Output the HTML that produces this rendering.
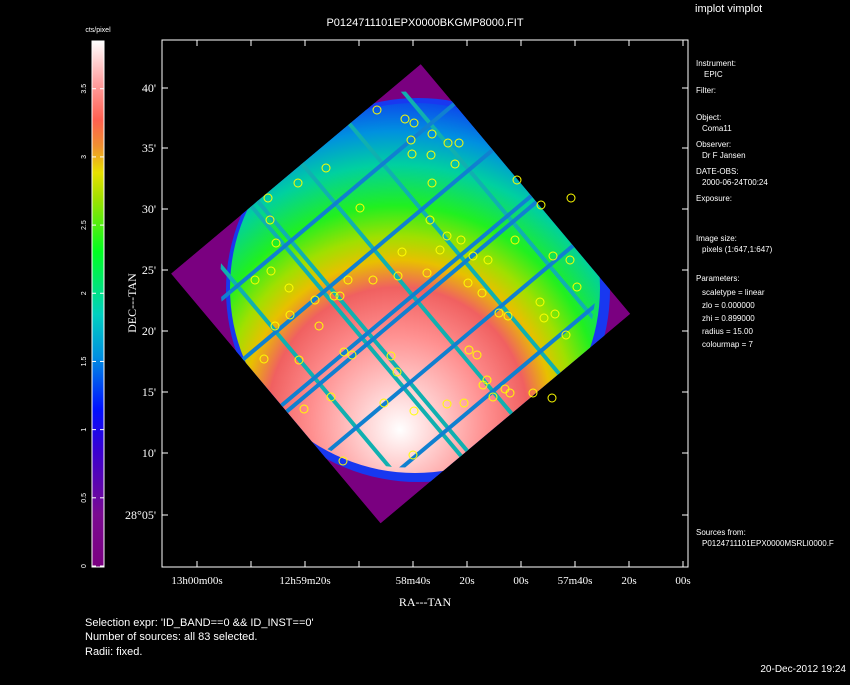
<!DOCTYPE html>
<html><head><meta charset="utf-8">
<style>
body{margin:0;background:#000;width:850px;height:680px;overflow:hidden;font-family:"Liberation Sans",sans-serif;}
svg text{fill:#fff;font-family:"Liberation Sans",sans-serif;}
</style></head>
<body>
<svg id="chart" width="850" height="680" viewBox="0 0 850 680" xmlns="http://www.w3.org/2000/svg">
<defs>
<linearGradient id="cbar" x1="0" y1="1" x2="0" y2="0">
<stop offset="0" stop-color="#7a0080"/><stop offset="0.1" stop-color="#7a0a90"/>
<stop offset="0.22" stop-color="#3a00d0"/><stop offset="0.3" stop-color="#0010ff"/>
<stop offset="0.4" stop-color="#0090e0"/><stop offset="0.48" stop-color="#00d0c0"/>
<stop offset="0.6" stop-color="#00ff20"/><stop offset="0.7" stop-color="#a0e000"/>
<stop offset="0.75" stop-color="#e8e000"/><stop offset="0.8" stop-color="#f09030"/>
<stop offset="0.85" stop-color="#ff6050"/><stop offset="0.92" stop-color="#ffa0a0"/>
<stop offset="1" stop-color="#ffffff"/>
</linearGradient>
<radialGradient id="img" gradientUnits="userSpaceOnUse" cx="395" cy="400" r="310" fx="400" fy="430">
<stop offset="0" stop-color="#ffffff"/><stop offset="0.12" stop-color="#ffd0d0"/>
<stop offset="0.28" stop-color="#ff9090"/><stop offset="0.42" stop-color="#f06060"/>
<stop offset="0.5" stop-color="#e8c000"/><stop offset="0.57" stop-color="#a0e000"/>
<stop offset="0.66" stop-color="#20f020"/><stop offset="0.78" stop-color="#00d0a0"/>
<stop offset="0.88" stop-color="#0090e0"/><stop offset="1" stop-color="#1030f0"/>
</radialGradient>
<clipPath id="sq"><rect x="237" y="131" width="326" height="326" transform="rotate(-40 400 293)"/></clipPath>
<clipPath id="disk"><circle cx="415" cy="288" r="188"/></clipPath>
</defs>

<text x="425" y="26" font-size="11" text-anchor="middle">P0124711101EPX0000BKGMP8000.FIT</text>
<text x="695" y="12" font-size="11">implot vimplot</text>

<text x="98" y="32" font-size="7" text-anchor="middle">cts/pixel</text>
<rect x="92" y="41" width="12" height="526" fill="url(#cbar)" stroke="#fff" stroke-width="1"/>
<g id="cbticks"></g>

<rect x="162" y="40" width="526" height="527" fill="none" stroke="#fff" stroke-width="1"/>

<g clip-path="url(#sq)">
<rect x="237" y="131" width="326" height="326" fill="#7a0080" transform="rotate(-40 400 293)"/>
<circle cx="418" cy="290" r="192" fill="#1838f0"/>
<circle cx="415" cy="288" r="185" fill="url(#img)"/>
<g clip-path="url(#disk)" transform="rotate(-40 400 293)" id="chips"></g>
</g>
<g id="sources"></g>

<g id="axes"></g>
<text x="136" y="303" font-size="12" transform="rotate(-90 136 303)" text-anchor="middle" style="font-family:'Liberation Serif',serif">DEC---TAN</text>
<text x="425" y="606" font-size="12" text-anchor="middle" style="font-family:'Liberation Serif',serif">RA---TAN</text>

<g font-size="8">
<text x="696" y="66">Instrument:</text><text x="704" y="77">EPIC</text>
<text x="696" y="93">Filter:</text>
<text x="696" y="120">Object:</text><text x="702" y="131">Coma11</text>
<text x="696" y="147">Observer:</text><text x="702" y="158">Dr F Jansen</text>
<text x="696" y="174">DATE-OBS:</text><text x="702" y="185">2000-06-24T00:24</text>
<text x="696" y="201">Exposure:</text>
<text x="696" y="241">Image size:</text><text x="702" y="252">pixels (1:647,1:647)</text>
<text x="696" y="281">Parameters:</text>
<text x="702" y="295">scaletype = linear</text>
<text x="702" y="308">zlo = 0.000000</text>
<text x="702" y="321">zhi = 0.899000</text>
<text x="702" y="334">radius = 15.00</text>
<text x="702" y="347">colourmap = 7</text>
<text x="696" y="535">Sources from:</text>
<text x="702" y="546">P0124711101EPX0000MSRLI0000.F</text>
</g>
<g font-size="11">
<text x="85" y="626">Selection expr: 'ID_BAND==0 &amp;&amp; ID_INST==0'</text>
<text x="85" y="640">Number of sources: all 83 selected.</text>
<text x="85" y="655">Radii: fixed.</text>
</g>
<text x="846" y="672" font-size="10" text-anchor="end">20-Dec-2012 19:24</text>

<script>
const NS="http://www.w3.org/2000/svg";
const decLabels=["40'","35'","30'","25'","20'","15'","10'","28°05'"];
const decPix=[88,148,209,270,331,392,453,515];
const raLabels=["13h00m00s","","12h59m20s","","58m40s","20s","00s","57m40s","20s","00s"];
const raIndex=[0,1,2,3,4,5,6,7,8,9];
const cbValues=[0,0.5,1,1.5,2,2.5,3,3.5];
const chipOffsetsX=[-120,-58,-50,8,70,132];
const chipOffsetsY=[-110,-50,10,18,75,135];
const srcX=[377,405,414,432,448,459,412,431,455,268,298,326,360,432,411,517,541,571,270,276,289,315,340,402,430,447,461,473,488,515,553,570,577,255,271,290,319,334,348,373,398,427,440,468,482,499,508,540,555,566,275,264,299,344,352,391,397,469,477,487,505,510,533,544,304,331,384,414,447,464,483,493,552,343,413];
const srcY=[110,119,123,134,143,143,154,155,164,198,183,168,208,183,140,180,205,198,220,243,288,300,296,252,220,236,240,256,260,240,256,260,287,280,271,315,326,296,280,280,276,273,250,283,293,313,316,302,314,335,326,359,360,352,355,356,372,350,355,380,389,393,393,318,409,397,403,411,404,403,385,397,398,461,455];
const RA0=197, RAstep=54.0;
function raX(i){return RA0+i*RAstep;}
function mk(tag,attrs,parent){const e=document.createElementNS(NS,tag);for(const k in attrs)e.setAttribute(k,attrs[k]);parent.appendChild(e);return e;}
const axes=document.getElementById('axes');
decPix.forEach((y,i)=>{
  const t=mk('line',{x1:162,x2:168,y1:y,y2:y,stroke:'#fff'},axes);
  
  
  mk('line',{x1:682,x2:688,y1:y,y2:y,stroke:'#fff'},axes);
  const l=mk('text',{x:156,y:y+4,'font-size':12,'text-anchor':'end',style:"font-family:'Liberation Serif',serif"},axes);
  l.textContent=decLabels[i];
  
  
});
raIndex.forEach(i=>{
  const x=raX(i);
  const t=mk('line',{x1:x,x2:x,y1:561,y2:567,stroke:'#fff'},axes);
  
  
  mk('line',{x1:x,x2:x,y1:40,y2:46,stroke:'#fff'},axes);
  if(raLabels[i]){
    const l=mk('text',{x:x,y:584,'font-size':11,'text-anchor':'middle',style:"font-family:'Liberation Serif',serif"},axes);
    l.textContent=raLabels[i];
    
    
  }
});
const cb=document.getElementById('cbticks');
const cbY=v=>566-v/3.85*525;
cbValues.forEach(v=>{
  const y=cbY(v);
  mk('line',{x1:92,x2:96,y1:y,y2:y,stroke:'#fff'},cb);
  mk('line',{x1:100,x2:104,y1:y,y2:y,stroke:'#fff'},cb);
  const l=mk('text',{x:83,y:y,'font-size':7,'text-anchor':'middle',transform:`rotate(-90 83 ${y})`,dy:'3'},cb);
  l.textContent=String(v);
  
  
});
const chips=document.getElementById('chips');
chipOffsetsX.forEach(o=>{
  const r=mk('rect',{x:400+o-2,y:80,width:4,height:430,fill:'#10b0b0'},chips);
  
  
});
chipOffsetsY.forEach(o=>{
  const r=mk('rect',{x:180,y:293+o-2,width:440,height:4,fill:'#1080d0'},chips);
  
  
});
const src=document.getElementById('sources');
srcX.forEach((x,i)=>{
  const c=mk('circle',{cx:x,cy:srcY[i],r:4,fill:'none',stroke:'#ffff00','stroke-width':1},src);
  
  
});
</script>
</svg>
</body></html>
